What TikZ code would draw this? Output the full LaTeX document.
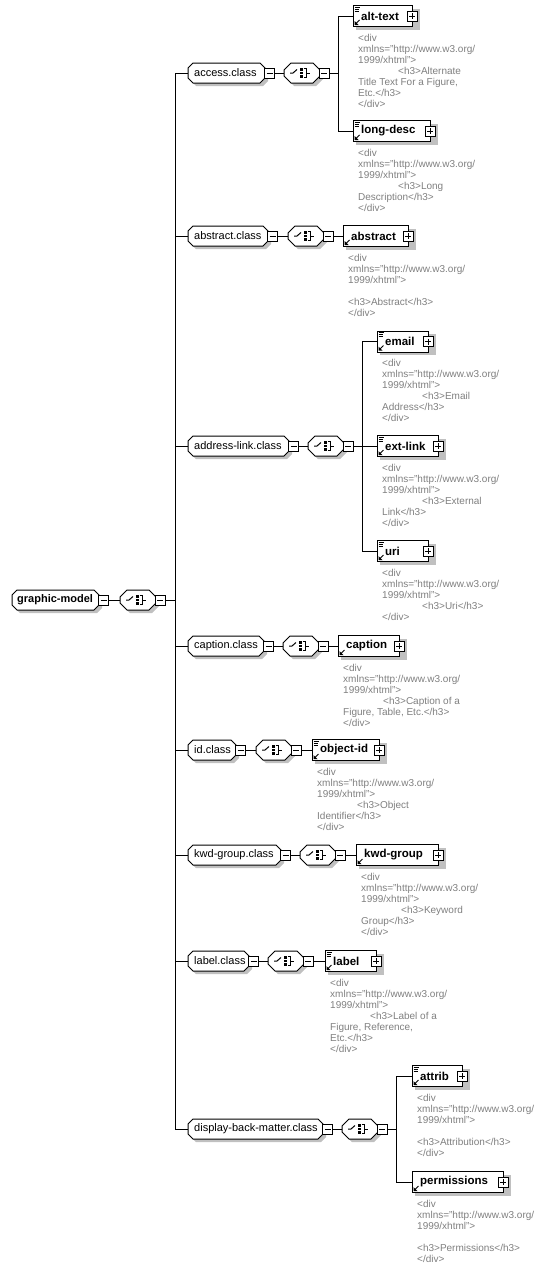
\documentclass[tikz,border=0pt]{standalone}
\usepackage{fontspec}
\setmainfont{Liberation Sans}
\usetikzlibrary{backgrounds}
\definecolor{shadowc}{RGB}{192,192,192}
\definecolor{docc}{RGB}{128,128,128}
\tikzset{
  lbl/.style={font=\fontsize{11}{13}\selectfont, inner sep=0, anchor=west},
  elbl/.style={font=\fontsize{11.5}{13}\selectfont\bfseries, inner sep=0, anchor=west},
  doc/.style={font=\fontsize{10}{11}\selectfont, text=docc, align=left, inner sep=0, anchor=north west},
  conn/.style={draw=black, line width=1pt},
  holder/.style={inner sep=0, minimum height=20, outer sep=0},
  ebox/.style={draw, line width=1pt, fill=white, inner sep=0, minimum height=21, outer sep=0},
  sq/.style={draw, line width=1pt, fill=white, minimum size=10, inner sep=0, outer sep=0},
  minusbox/.style={sq, path picture={\draw[line width=1pt] ([xshift=2pt]path picture bounding box.west) -- ([xshift=-2pt]path picture bounding box.east);}},
  plusbox/.style={sq, path picture={\draw[line width=1pt] ([xshift=2pt]path picture bounding box.west) -- ([xshift=-2pt]path picture bounding box.east) ([yshift=-2pt]path picture bounding box.north) -- ([yshift=2pt]path picture bounding box.south);}}
}
\newcommand{\ind}{\hspace*{40pt}}
\newcommand{\octdraw}[5]{%
  \path[#1] ({#2+#5},{#4-10}) -- ({#3-#5},{#4-10}) -- ({#3},{#4-10+#5}) -- ({#3},{#4+10-#5}) -- ({#3-#5},{#4+10}) -- ({#2+#5},{#4+10}) -- ({#2},{#4+10-#5}) -- ({#2},{#4-10+#5}) -- cycle;}
% name, L, R, cy, text offset, text
\newcommand{\grp}[6]{%
  \octdraw{fill=shadowc, shift={(3,3)}}{#2}{#3}{#4}{5}
  \octdraw{draw, line width=1pt, fill=white}{#2}{#3}{#4}{5}
  \node[holder, minimum width={#3-#2}] (#1) at ({(#2+#3)/2},{#4}) {};
  \node[lbl] (#1t) at ({#2+#5},{#4}) {#6};
  \node[minusbox] (#1m) at ({#3+4.5},{#4}) {};
}
% name, L, cy
\newcommand{\seqc}[3]{%
  \octdraw{fill=shadowc, shift={(3,3)}}{#2}{#2+36}{#3}{7}
  \octdraw{draw, line width=1pt, fill=white}{#2}{#2+36}{#3}{7}
  \node[holder, minimum width=36] (#1) at ({#2+18},{#3}) {};
  \draw[line width=1pt] ({#2+6},{#3}) -- ({#2+9},{#3}) -- ({#2+13},{#3-3.5});
  \fill ({#2+16},{#3-5}) rectangle ({#2+18.5},{#3-2.5});
  \fill ({#2+16},{#3-1.5}) rectangle ({#2+18.5},{#3+1});
  \fill ({#2+16},{#3+2}) rectangle ({#2+18.5},{#3+4.5});
  \draw[line width=1pt] ({#2+19.5},{#3-4.5}) -- ({#2+22},{#3-4.5}) -- ({#2+22},{#3+4.5}) -- ({#2+19.5},{#3+4.5});
  \draw[line width=1pt] ({#2+22},{#3}) -- ({#2+26},{#3});
  \node[minusbox] (#1m) at ({#2+40},{#3}) {};
}
% name, L, R, cy, text, docicon, doc
\newcommand{\elem}[7]{%
  \fill[shadowc] ({#2+3},{#4-7.5}) rectangle ({#3+8},{#4+13.5});
  \node[ebox, minimum width={#3-#2}] (#1) at ({(#2+#3)/2},{#4}) {};
  \node[elbl] (#1t) at ({#2+8},{#4}) {#5};
  \node[plusbox] (#1p) at ({#3},{#4}) {};
  \ifnum#6=1 \draw[line width=0.7pt] ({#2+1.5},{#4-9}) -- ({#2+7},{#4-9}) ({#2+1.5},{#4-7}) -- ({#2+6},{#4-7}) ({#2+1.5},{#4-5}) -- ({#2+6},{#4-5});\fi
  \draw[line width=0.8pt] ({#2+3},{#4+7.5}) -- ({#2+6.5},{#4+4});
  \fill ({#2+1.5},{#4+9}) -- ({#2+1.5},{#4+5}) -- ({#2+5.5},{#4+9}) -- cycle;
  \node[doc] (#1d) at ({#2+5},{#4+18}) {#7};
}
\newcommand{\dhead}{<div\\xmlns="http://www.w3.org/\\1999/xhtml">}
\begin{document}
\begin{tikzpicture}[x=1pt,y=-1pt]
\useasboundingbox (0,0) rectangle (544,1269);
% root
\grp{root}{12}{99}{600}{5}{\bfseries graphic-model}
\seqc{rootc}{120}{600}
% class rows
\grp{acc}{188}{265}{73}{6}{access.class}
\seqc{accc}{284}{73}
\grp{abs}{188}{268}{236}{6}{abstract.class}
\seqc{absc}{288}{236}
\grp{adr}{188}{289}{446}{6}{address-link.class}
\seqc{adrc}{308}{446}
\grp{cap}{188}{264}{646}{6}{caption.class}
\seqc{capc}{283}{646}
\grp{idc}{188}{236}{750}{6}{id.class}
\seqc{idcc}{256}{750}
\grp{kwd}{188}{281}{855}{6}{kwd-group.class}
\seqc{kwdc}{300}{855}
\grp{lab}{188}{249}{961}{6}{label.class}
\seqc{labc}{268}{961}
\grp{dbm}{188}{323}{1129}{6}{display-back-matter.class}
\seqc{dbmc}{342}{1129}
% elements
\elem{alt}{353}{412}{16}{alt-text}{1}{\dhead\\\ind<h3>Alternate\\Title Text For a Figure,\\Etc.</h3>\\</div>}
\elem{ldesc}{353}{430}{131}{long-desc}{1}{\dhead\\\ind<h3>Long\\Description</h3>\\</div>}
\elem{abst}{343}{408}{236}{abstract}{0}{\dhead\\\mbox{}\\<h3>Abstract</h3>\\</div>}
\elem{email}{377}{428}{341.5}{email}{1}{\dhead\\\ind<h3>Email\\Address</h3>\\</div>}
\elem{extl}{377}{438}{446}{ext-link}{1}{\dhead\\\ind<h3>External\\Link</h3>\\</div>}
\elem{uri}{377}{428}{551}{uri}{1}{\dhead\\\ind<h3>Uri</h3>\\</div>}
\elem{capt}{338}{399}{646}{caption}{0}{\dhead\\\ind<h3>Caption of a\\Figure, Table, Etc.</h3>\\</div>}
\elem{oid}{312}{379}{750}{object-id}{1}{\dhead\\\ind<h3>Object\\Identifier</h3>\\</div>}
\elem{kwdg}{356}{438}{855}{kwd-group}{0}{\dhead\\\ind<h3>Keyword\\Group</h3>\\</div>}
\elem{labl}{325}{376}{961}{label}{1}{\dhead\\\ind<h3>Label of a\\Figure, Reference,\\Etc.</h3>\\</div>}
\elem{attr}{412}{462}{1076}{attrib}{1}{\dhead\\\mbox{}\\<h3>Attribution</h3>\\</div>}
\elem{perm}{412}{503}{1182}{permissions}{0}{\dhead\\\mbox{}\\<h3>Permissions</h3>\\</div>}
% connectors
\coordinate (trunk) at (175,600);
\coordinate (accv) at (338,73);
\coordinate (adrv) at (362,446);
\coordinate (dbmv) at (396,1129);
\begin{pgfonlayer}{background}
\fill[white] (0,0) rectangle (544,1269);
\draw[conn] (rootm.east) -- (rootc.west);
\draw[conn] (rootcm.east) -- (trunk);
\foreach \n in {acc,abs,adr,cap,idc,kwd,lab,dbm}{
  \draw[conn] (\n.west) -| (trunk);
  \draw[conn] (\n m.east) -- (\n c.west);
}
\draw[conn] (acccm.east) -- (accv);
\draw[conn] (alt.west) -| (accv);
\draw[conn] (ldesc.west) -| (accv);
\draw[conn] (abscm.east) -- (abst.west);
\draw[conn] (adrcm.east) -- (adrv);
\draw[conn] (email.west) -| (adrv);
\draw[conn] (extl.west) -- (adrv);
\draw[conn] (uri.west) -| (adrv);
\draw[conn] (capcm.east) -- (capt.west);
\draw[conn] (idccm.east) -- (oid.west);
\draw[conn] (kwdcm.east) -- (kwdg.west);
\draw[conn] (labcm.east) -- (labl.west);
\draw[conn] (dbmcm.east) -- (dbmv);
\draw[conn] (attr.west) -| (dbmv);
\draw[conn] (perm.west) -| (dbmv);
\end{pgfonlayer}
\end{tikzpicture}
\end{document}
